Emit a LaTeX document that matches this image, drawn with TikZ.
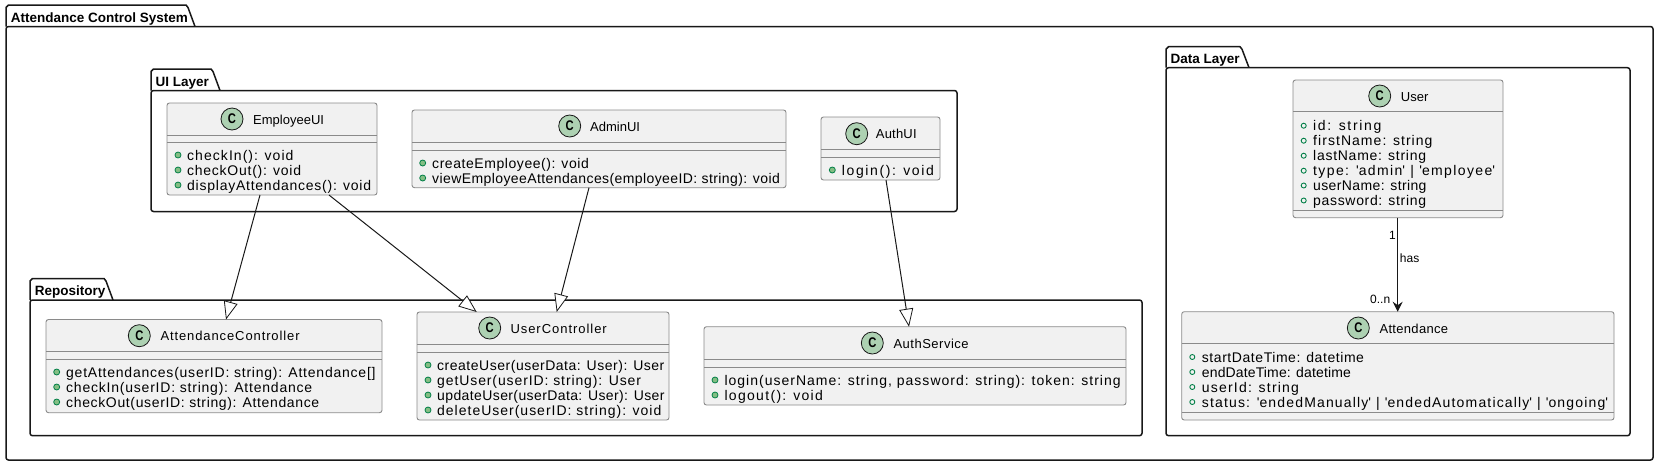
\documentclass[tikz,border=0pt]{standalone}
\usepackage{fontspec}
\setmainfont{Liberation Sans}
\usetikzlibrary{arrows.meta}
\definecolor{pumlline}{HTML}{181818}
\definecolor{pumlbox}{HTML}{8A8A8A}
\definecolor{pumlfill}{HTML}{F1F1F1}
\definecolor{pumlspot}{HTML}{ADD1B2}
\definecolor{pumlgreen}{HTML}{038048}
\definecolor{pumldot}{HTML}{84BE84}
\newcommand{\qs}{\textquotesingle}
\tikzset{
    package/.style={line width=1.5pt,draw=pumlline,line join=round},
    classbox/.style={draw=pumlbox,line width=0.9pt,fill=pumlfill,rounded corners=2.5pt,
        anchor=north west,inner sep=0pt,outer sep=0pt},
    divider/.style={draw=pumlbox,line width=0.9pt},
    spot/.style={circle,draw=pumlline,line width=0.8pt,fill=pumlspot,minimum size=22pt,inner sep=0pt,
        font=\fontsize{14}{14}\selectfont\bfseries},
    pkgname/.style={anchor=base west,inner sep=0pt,font=\fontsize{13.5}{14}\selectfont\bfseries},
    classname/.style={anchor=base west,inner sep=0pt,font=\fontsize{13}{14}\selectfont\addfontfeature{LetterSpace=#1}},
    classname/.default=0,
    member/.style={anchor=base west,inner sep=0pt,font=\fontsize{14}{14}\selectfont\addfontfeature{LetterSpace=#1}},
    member/.default=5.5,
    edgelabel/.style={anchor=base west,inner sep=0pt,font=\fontsize{12}{12}\selectfont},
    methoddot/.style={draw=pumlgreen,fill=pumldot,line width=0.8pt},
    fielddot/.style={draw=pumlgreen,line width=0.9pt},
    extends/.style={draw=pumlline,line width=1pt,-{Triangle[length=18pt,width=14pt,fill=white,line width=0.8pt]}},
    assoc/.style={draw=pumlline,line width=1pt,-{Stealth[length=10pt,width=10pt,inset=3.5pt]}}
}
\begin{document}
\begin{tikzpicture}[x=1pt,y=-1pt]
    \useasboundingbox (0,0) rectangle (1662,467);

    % Packages
    \draw [package] (6,26.5) -- (6,7.5) -- (8.5,5) -- (186,5) -- (188,7.5) -- (195,26.5);
    \draw [package,rounded corners=2.5pt] (6,26.5) rectangle (1653,460);
    \node [pkgname] (systemname) at (10.7,22) {Attendance Control System};

    \draw [package] (151,90.5) -- (151,71.5) -- (153.5,69) -- (211,69) -- (213,71.5) -- (220,90.5);
    \draw [package,rounded corners=2.5pt] (151,90.5) rectangle (957,211.5);
    \node [pkgname] (uiname) at (155.5,86) {UI Layer};

    \draw [package] (30,300) -- (30,281) -- (32.5,278.5) -- (104,278.5) -- (106,281) -- (113,300);
    \draw [package,rounded corners=2.5pt] (30,300) rectangle (1142,435.7);
    \node [pkgname] (reponame) at (34.7,295.5) {Repository};

    \draw [package] (1166,67.7) -- (1166,49.2) -- (1168.5,46.7) -- (1240,46.7) -- (1242,49.2) -- (1249,67.7);
    \draw [package,rounded corners=2.5pt] (1166,67.7) rectangle (1630,435.7);
    \node [pkgname] (dataname) at (1170.5,63.2) {Data Layer};

    % EmployeeUI
    \node [classbox,minimum width=210pt,minimum height=92pt] (EmployeeUI) at (167,103) {};
    \draw [divider] (167,135) -- (377,135);
    \draw [divider] (167,142) -- (377,142);
    \node [spot] (EmployeeUIspot) at (232,119) {\scalebox{0.8}[1]{C}};
    \node [classname] (EmployeeUIname) at (253,124) {EmployeeUI};
    \draw [methoddot] (178,155) circle (3) (178,170) circle (3) (178,185) circle (3);
    \node [member=7.5] (checkIn) at (187,160) {checkIn(): void};
    \node [member=5.3] (checkOut) at (187,175) {checkOut(): void};
    \node [member=5.4] (displayAttendances) at (187,190) {displayAttendances(): void};

    % AdminUI
    \node [classbox,minimum width=374pt,minimum height=77.7pt] (AdminUI) at (412,110) {};
    \draw [divider] (412,142) -- (786,142);
    \draw [divider] (412,150) -- (786,150);
    \node [spot] (AdminUIspot) at (569.7,126) {\scalebox{0.8}[1]{C}};
    \node [classname] (AdminUIname) at (590,131) {AdminUI};
    \draw [methoddot] (422.7,163) circle (3) (422.7,178) circle (3);
    \node [member=4] (createEmployee) at (432,168) {createEmployee(): void};
    \node [member=2.9] (viewEmployeeAttendances) at (432,183) {viewEmployeeAttendances(employeeID: string): void};

    % AuthUI
    \node [classbox,minimum width=119pt,minimum height=63pt] (AuthUI) at (821,117) {};
    \draw [divider] (821,149.5) -- (940,149.5);
    \draw [divider] (821,157.5) -- (940,157.5);
    \node [spot] (AuthUIspot) at (856.7,133.7) {\scalebox{0.8}[1]{C}};
    \node [classname=1.6] (AuthUIname) at (875.7,138.7) {AuthUI};
    \draw [methoddot] (832.3,170) circle (3);
    \node [member=11.5] (loginUI) at (841.7,175) {login(): void};

    % AttendanceController
    \node [classbox,minimum width=336pt,minimum height=93.2pt] (AttendanceController) at (46,319.5) {};
    \draw [divider] (46,351.3) -- (382,351.3);
    \draw [divider] (46,359.3) -- (382,359.3);
    \node [spot] (AttendanceControllerspot) at (139.3,335.7) {\scalebox{0.8}[1]{C}};
    \node [classname=6.9] (AttendanceControllername) at (160.3,340.7) {AttendanceController};
    \draw [methoddot] (56.7,372) circle (3) (56.7,387) circle (3) (56.7,402) circle (3);
    \node [member=5.5] (getAttendances) at (66,377) {getAttendances(userID: string): Attendance[]};
    \node [member=5.6] (checkInUser) at (66,392) {checkIn(userID: string): Attendance};
    \node [member=4.6] (checkOutUser) at (66,407) {checkOut(userID: string): Attendance};

    % UserController
    \node [classbox,minimum width=252pt,minimum height=108pt] (UserController) at (417,312) {};
    \draw [divider] (417,344) -- (669,344);
    \draw [divider] (417,352) -- (669,352);
    \node [spot] (UserControllerspot) at (489.7,328) {\scalebox{0.8}[1]{C}};
    \node [classname=7.4] (UserControllername) at (510.3,333) {UserController};
    \draw [methoddot] (428,365) circle (3) (428,380) circle (3) (428,395) circle (3) (428,410) circle (3);
    \node [member=3.7] (createUser) at (437,370) {createUser(userData: User): User};
    \node [member=6.4] (getUser) at (437,385) {getUser(userID: string): User};
    \node [member=2.8] (updateUser) at (437,400) {updateUser(userData: User): User};
    \node [member=7.1] (deleteUser) at (437,415) {deleteUser(userID: string): void};

    % AuthService
    \node [classbox,minimum width=422pt,minimum height=78.3pt] (AuthService) at (704,326.7) {};
    \draw [divider] (704,359) -- (1126,359);
    \draw [divider] (704,367) -- (1126,367);
    \node [spot] (AuthServicespot) at (872.3,343) {\scalebox{0.8}[1]{C}};
    \node [classname=3.9] (AuthServicename) at (893.3,348) {AuthService};
    \draw [methoddot] (715,380) circle (3) (715,395) circle (3);
    \node [member=7.2] (login) at (724.3,385) {login(userName: string, password: string): token: string};
    \node [member=9.4] (logout) at (724.3,400) {logout(): void};

    % User
    \node [classbox,minimum width=210pt,minimum height=137.7pt] (User) at (1293,80) {};
    \draw [divider] (1293,111.7) -- (1503,111.7);
    \draw [divider] (1293,210) -- (1503,210);
    \node [spot] (Userspot) at (1379.7,96) {\scalebox{0.8}[1]{C}};
    \node [classname] (Username) at (1400.7,101) {User};
    \draw [fielddot] (1303.7,125.7) circle (2.5) (1303.7,140.7) circle (2.5) (1303.7,155.7) circle (2.5)
        (1303.7,170.7) circle (2.5) (1303.7,185.5) circle (2.5) (1303.7,200.5) circle (2.5);
    \node [member=12] (id) at (1313,130.7) {id: string};
    \node [member=7.5] (firstName) at (1313,145.7) {firstName: string};
    \node [member=5.2] (lastName) at (1313,160.7) {lastName: string};
    \node [member=9.9] (type) at (1313,175.7) {type: \qs admin\qs\ | \qs employee\qs};
    \node [member=2.7] (userName) at (1313,190.7) {userName: string};
    \node [member=4.8] (password) at (1313,205.7) {password: string};

    % Attendance
    \node [classbox,minimum width=432.3pt,minimum height=108.3pt] (Attendance) at (1181.7,311.7) {};
    \draw [divider] (1181.7,343.7) -- (1614,343.7);
    \draw [divider] (1181.7,412) -- (1614,412);
    \node [spot] (Attendancespot) at (1358.3,328) {\scalebox{0.8}[1]{C}};
    \node [classname=2.5] (Attendancename) at (1379.3,333) {Attendance};
    \draw [fielddot] (1192.3,357) circle (2.5) (1192.3,372) circle (2.5) (1192.3,387) circle (2.5) (1192.3,402) circle (2.5);
    \node [member=4] (startDateTime) at (1201.7,362) {startDateTime: datetime};
    \node [member=1] (endDateTime) at (1201.7,377) {endDateTime: datetime};
    \node [member=8.6] (userId) at (1201.7,392) {userId: string};
    \node [member=8.3] (status) at (1201.7,407) {status: \qs endedManually\qs\ | \qs endedAutomatically\qs\ | \qs ongoing\qs};

    % Connectors
    \draw [extends] ([xshift=93pt]EmployeeUI.south west) -- ([xshift=180pt]AttendanceController.north west);
    \draw [extends] ([xshift=162pt]EmployeeUI.south west) -- ([xshift=59.7pt]UserController.north west);
    \draw [extends] ([xshift=177pt]AdminUI.south west) -- ([xshift=139.7pt]UserController.north west);
    \draw [extends] ([xshift=65pt]AuthUI.south west) -- ([xshift=205pt]AuthService.north west);
    \draw [assoc] ([xshift=104.7pt]User.south west) -- ([xshift=216pt]Attendance.north west);

    % Labels
    \node [edgelabel] (onelabel) at (1389,239.5) {1};
    \node [edgelabel] (haslabel) at (1399.7,262) {has};
    \node [edgelabel] (manylabel) at (1370,303.5) {0..n};
\end{tikzpicture}
\end{document}
